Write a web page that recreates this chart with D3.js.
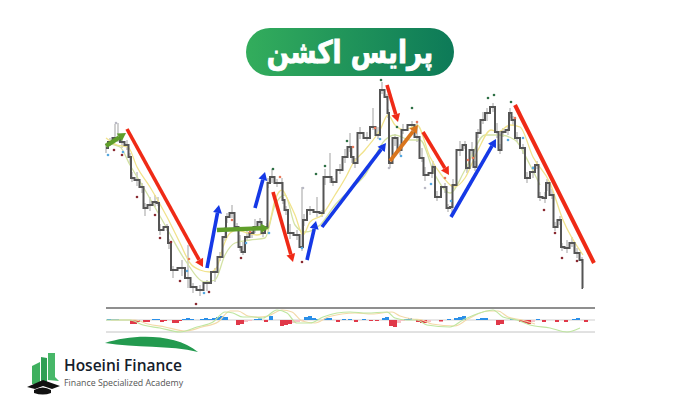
<!DOCTYPE html>
<html><head><meta charset="utf-8">
<script src="https://cdn.jsdelivr.net/npm/d3@7"></script>
<style>html,body{margin:0;padding:0;background:#fff}svg{display:block}</style>
</head><body><svg id="c" width="700" height="400"></svg>
<script>
// Values. Bars are numbered along the time axis; prices are in chart units.
const priceTrace=[[0,252],[4,258],[9,262],[12,262],[16,258],[21,255],[24,243],[26,222],[31,220],[36,213],[39,192],[44,195],[49,198],[52,197],[54,170],[61,173],[63,157],[67,130],[76,132],[82,122],[87,113],[94,110],[101,117],[109,128],[114,143],[119,163],[121,183],[126,187],[131,173],[134,153],[137,148],[141,163],[146,167],[149,173],[154,178],[157,167],[161,173],[162,217],[166,223],[171,217],[176,217],[177,200],[180,190],[184,167],[191,165],[196,153],[198,180],[204,190],[211,188],[216,187],[219,223],[224,223],[227,218],[234,230],[239,243],[244,253],[246,243],[249,237],[254,267],[261,262],[267,273],[272,265],[276,310],[281,303],[282,287],[284,237],[289,262],[294,250],[297,270],[306,275],[311,263],[316,242],[319,225],[326,227],[327,233],[331,203],[339,213],[342,192],[346,193],[347,215],[354,250],[359,255],[361,232],[366,250],[369,233],[372,267],[377,280],[381,287],[387,293],[391,268],[394,250],[397,268],[402,270],[404,287],[407,280],[411,262],[417,252],[421,222],[427,228],[431,235],[434,203],[439,202],[441,217],[446,205],[449,173],[454,180],[456,153],[461,152],[466,157],[471,147],[476,140],[477,112]];
const wickUp=[5,4,14,15,6,5,4,6,8,4,5,8,7,6,6,3,4,4,8,33,4,5,3,4,5,10,4,8,4,12,10,6,4,8,4,3,4,5,8,4,5,3,4,9,5,60,6,4,15,3,8,24,4,6,8,14,10,5,6,6,19,8,8,3,4,5,4,6,6,4,14,10,8,8,6,6,4,4,8,6,9,4,4,8,6,4,8,5,4,9,6,4,4,5,4,6,4,6,6,4,5,6,4,6,5,4,4,8,6,5,3];
const wickDown=[5,4,3,4,6,5,8,4,6,6,8,6,5,3,5,4,6,8,8,10,6,6,8,10,4,4,6,5,3,4,3,4,5,6,8,4,3,5,6,4,8,4,5,6,5,4,6,5,5,4,8,6,4,4,6,5,6,5,6,3,3,4,4,3,5,5,8,5,4,6,5,4,6,5,5,4,6,4,8,4,6,4,5,6,4,5,4,8,5,6,4,5,5,5,6,4,6,5,6,4,4,5,8,4,4,5,4,5,4,5,3];
const maFast=[[0,262],[11,255],[22,253],[31,233],[44,213],[61,183],[74,157],[84,137],[94,130],[104,128],[111,133],[117,153],[124,167],[131,170],[141,167],[151,165],[162,172],[169,200],[176,210],[182,200],[189,185],[197,165],[204,178],[216,185],[229,205],[241,225],[246,235],[259,250],[274,270],[282,285],[289,275],[299,270],[311,275],[324,243],[337,223],[348,213],[359,222],[372,250],[385,270],[392,268],[404,275],[414,273],[427,243],[444,217],[457,180],[477,145]];
const maSlow=[[0,257],[14,253],[24,235],[39,210],[59,175],[79,140],[99,118],[109,120],[119,145],[129,157],[144,160],[159,162],[169,195],[179,205],[189,175],[199,168],[214,175],[229,195],[244,210],[259,225],[279,260],[289,265],[304,260],[314,260],[329,225],[344,207],[359,230],[379,265],[394,265],[409,260],[424,235],[434,215]];
const oscMain=[[0,320],[24,320],[37,325],[54,328],[74,332],[91,327],[107,322],[119,312],[127,313],[137,317],[147,317],[157,318],[171,310],[181,313],[191,323],[204,323],[217,317],[231,313],[244,312],[261,313],[281,312],[289,318],[301,320],[311,320],[321,325],[344,327],[357,320],[377,312],[387,310],[397,317],[411,320],[424,325],[444,328],[461,332],[474,328]];
const oscSignal=[[5,320],[29,320],[42,324],[59,327],[79,331],[96,327],[112,322],[124,311],[132,311],[142,316],[152,317],[162,316],[176,310],[186,312],[196,321],[209,323],[222,317],[236,314],[249,313],[266,314],[286,312],[294,316],[306,319],[316,320],[326,324],[349,326],[362,319],[382,311],[392,311],[402,317],[416,320],[429,324]];
const histogram=[[1,1],[5,1],[9,1],[24,-4],[27,-4],[30,-2],[37,-2],[40,-2],[46,1],[50,1],[54,-2],[57,-1],[66,-3],[69,-3],[72,-1],[76,1],[80,2],[84,1],[94,1],[98,2],[102,1],[106,2],[110,3],[114,4],[118,3],[130,-5],[134,-4],[148,1],[152,1.5],[158,-2],[163,4],[174,-6],[178,-5],[182,-4],[198,3],[202,4],[206,2],[209,1],[218,2],[222,2],[230,-2],[236,1],[242,1],[248,-2],[256,1],[263,-1],[269,-1],[276,2],[279,3],[283,-6],[287,-7],[298,1],[302,2],[310,-2],[314,-3],[317,-3],[333,-1.5],[341,1],[348,2],[352,3],[356,4],[370,1],[374,2],[378,2],[390,-5],[394,-4],[404,1],[413,-2],[417,-3],[421,-4],[430,1],[436,-2],[449,-2],[458,-2],[466,1],[470,2],[478,-2]];
const histogramPale=[[138,-2],[142,-1],[186,-3],[190,-2],[194,-1],[291,-3],[295,-1],[321,-2],[425,-2]];
const arrowFrom=[[0,254],[21,271],[101,132],[111,170],[149,192],[167,208],[201,140],[216,173],[281,315],[284,239],[317,268],[345,183],[409,295]];
const arrowTo=[[20,267],[97,133],[113,195],[163,172],[159,228],[187,138],[210,179],[280,257],[292,278],[312,275],[343,225],[390,261],[488,137]];
const arrowKind=["trend","fall","rise","trend","rise","fall","rise","rise","fall","swing","fall","rise","tail"];
const markLow=[[8,250],[16,245],[31,203],[49,185],[54,162],[65,158],[74,119],[90,96],[103,108],[135,142],[196,138],[438,190],[449,167],[456,142],[471,139]];
const markHigh=[[167,231],[210,226],[219,234],[241,259],[275,320],[306,292],[382,302],[388,305],[405,298],[291,273]];
const markBlue=[[2,245],[17,248],[81,129],[98,107],[140,157],[163,167],[196,152],[274,261],[295,244],[325,216],[345,199],[417,262],[427,232],[402,260]];
const markHot=[[83,141],[126,180],[144,168],[174,223],[247,253],[269,272],[311,278],[339,222],[362,240],[367,242],[409,282]];
const markPale=[[10,277],[197,212],[283,232],[319,212]];
const titleText="پرایس اکشن", brand="Hoseini Finance", tagline="Finance Specialized Academy";

const arrowColor={trend:"#5f9e2c",fall:"#ef2b16",rise:"#1238e6",swing:"#d9741f",tail:"#ef2b16"};
const arrowWidth={trend:4.4,fall:3.6,rise:3.6,swing:3.8,tail:4};
const svg=d3.select("#c");
const defs=svg.append("defs");
const g=defs.append("linearGradient").attr("id","pill");
g.append("stop").attr("offset","0").attr("stop-color","#33ad5c");
g.append("stop").attr("offset","1").attr("stop-color","#0d7a58");
defs.append("filter").attr("id","soft").append("feGaussianBlur").attr("stdDeviation",0.5);

const x=d3.scaleLinear().domain([0,489]).range([106,595]);
const y=d3.scaleLinear().domain([0,400]).range([400,0]);
const histScale=d3.scaleLinear().domain([-10,10]).range([330,310]);
const oscY=d3.scaleLinear().domain([300,340]).range([300,340]);
const chart=svg.append("g").attr("filter","url(#soft)");

const panel=[[308,"#8f8f8f",1.8],[320,"#cfcfcf",1],[332,"#c4c4c4",1]];
chart.selectAll("line.p").data(panel).join("line").attr("class","p").attr("x1",x(0)).attr("x2",x(489))
 .attr("y1",d=>oscY(d[0])).attr("y2",d=>oscY(d[0])).attr("stroke",d=>d[1]).attr("stroke-width",d=>d[2]);
[[histogramPale,"#f6c3c8","#f6c3c8"],[histogram,"#2b8fe8","#e03848"]].forEach(([rows,up,down])=>{
 chart.append("g").selectAll("rect").data(rows).join("rect")
  .attr("x",d=>x(d[0])).attr("width",x(4)-x(0))
  .attr("y",d=>histScale(Math.max(d[1],0))).attr("height",d=>Math.abs(histScale(d[1])-histScale(0)))
  .attr("fill",d=>d[1]>0?up:down);
});
const oscLine=d3.line().x(d=>x(d[0])).y(d=>oscY(d[1])).curve(d3.curveMonotoneX);
[[oscSignal,"#f3d9a8"],[oscMain,"#bfe6a0"]].forEach(([v,c])=>chart.append("path")
 .attr("d",oscLine(v)).attr("fill","none").attr("stroke",c).attr("stroke-width",1.2));

chart.append("g").selectAll("line").data(priceTrace).join("line")
 .attr("x1",d=>x(d[0])).attr("x2",d=>x(d[0]))
 .attr("y1",(d,i)=>y(d[1]+wickUp[i])).attr("y2",(d,i)=>y(d[1]-wickDown[i]))
 .attr("stroke","#a9a9a9").attr("stroke-width",1.1);
const maLine=d3.line().x(d=>x(d[0])).y(d=>y(d[1])).curve(d3.curveMonotoneX);
[[maSlow,"#d3e2a4"],[maFast,"#f1e38c"]].forEach(([v,c])=>chart.append("path")
 .attr("d",maLine(v)).attr("fill","none").attr("stroke",c).attr("stroke-width",1.3));
chart.append("path").attr("d",d3.line().x(d=>x(d[0])).y(d=>y(d[1])).curve(d3.curveStep)(priceTrace)).attr("fill","none")
 .attr("stroke","#555").attr("stroke-width",2);
[[markLow,"#8a2a30"],[markHigh,"#2f6f45"],[markBlue,"#55a8e0"],[markHot,"#e8785a"],[markPale,"#b9b9c4"]].forEach(([rows,c])=>{
 chart.append("g").selectAll("circle").data(rows).join("circle")
  .attr("cx",d=>x(d[0])).attr("cy",d=>y(d[1])).attr("r",1.3).attr("fill",c);
});

arrowFrom.forEach((f,i)=>{
 const a=[x(f[0]),y(f[1])], b=[x(arrowTo[i][0]),y(arrowTo[i][1])], k=arrowKind[i];
 const ang=Math.atan2(b[1]-a[1],b[0]-a[0]), hl=k==="tail"?0:8, hw=4.5;
 const c=[b[0]-hl*Math.cos(ang),b[1]-hl*Math.sin(ang)];
 chart.append("line").attr("x1",a[0]).attr("y1",a[1]).attr("x2",c[0]).attr("y2",c[1])
  .attr("stroke",arrowColor[k]).attr("stroke-width",arrowWidth[k]);
 if(hl) chart.append("path").attr("fill",arrowColor[k]).attr("d",d3.line()([b,
  [c[0]+hw*Math.sin(ang),c[1]-hw*Math.cos(ang)],[c[0]-hw*Math.sin(ang),c[1]+hw*Math.cos(ang)]])+"Z");
});

svg.append("rect").attr("x",246).attr("y",28).attr("width",208).attr("height",48).attr("rx",24).attr("fill","url(#pill)");
svg.append("text").attr("transform","translate(350,63) scale(.85,1)").attr("text-anchor","middle").attr("direction","rtl")
 .attr("font-family","'DejaVu Sans'").attr("font-weight","700").attr("font-size",31)
 .attr("fill","#fff").attr("stroke","#fff").attr("stroke-width",.9).text(titleText);

svg.append("path").attr("fill","#239a4f").attr("d","M105,343C132,334 175,333 198,352C170,345 135,348 105,343Z");
const logoG=svg.append("g");
logoG.append("path").attr("fill","#3fb05f").attr("d","M32,366L40,362L40,384L32,384Z");
logoG.append("path").attr("fill","#2f9f54").attr("d","M41,357L47,358L47,382L41,384Z");
logoG.append("path").attr("fill","#47b768").attr("d","M48,353L55,353L55,377L59,381L48,380Z");
logoG.append("path").attr("fill","#111").attr("d","M27,387L43,380L60,386L52,389L43,386L35,389Z");
logoG.append("path").attr("fill","#111").attr("d","M34,390Q43,385 51,390L51,393Q43,396 34,393Z");
svg.append("text").attr("x",64).attr("y",371).attr("font-family","'Open Sans'").attr("font-weight","600")
 .attr("font-size",15.5).attr("fill","#15202b").text(brand);
svg.append("text").attr("x",64).attr("y",386).attr("font-family","'Open Sans'")
 .attr("font-size",8.8).attr("fill","#555").text(tagline);
</script></body></html>
